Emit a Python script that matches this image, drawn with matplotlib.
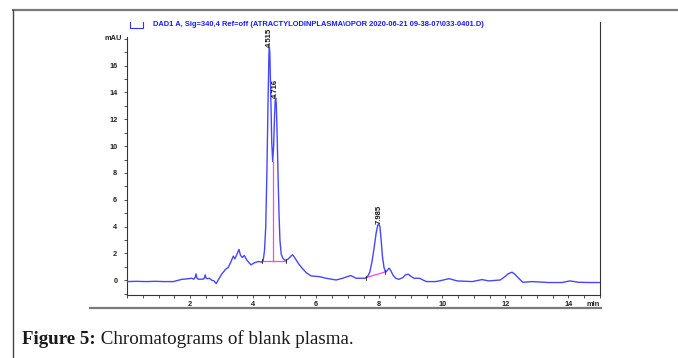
import matplotlib
matplotlib.use("Agg")
import matplotlib.pyplot as plt
from matplotlib.lines import Line2D
from matplotlib.ticker import MultipleLocator, FixedLocator

# ---------------- data ----------------
time = [0.0, 0.3, 0.6, 0.9, 1.2, 1.47, 1.6, 1.74, 1.9, 2.05, 2.12, 2.16, 2.19, 2.22, 2.26,
        2.42, 2.45, 2.48, 2.51, 2.55, 2.61, 2.69, 2.76, 2.83, 2.9, 3.0, 3.14, 3.21, 3.3,
        3.37, 3.42, 3.48, 3.55, 3.6, 3.66, 3.72, 3.8, 3.93, 4.04, 4.17, 4.27, 4.32, 4.36,
        4.40, 4.44, 4.47, 4.50, 4.515, 4.53, 4.56, 4.59, 4.62, 4.65, 4.68, 4.70, 4.716,
        4.735, 4.76, 4.79, 4.82, 4.85, 4.89, 4.94, 5.0, 5.05, 5.12, 5.2, 5.25, 5.3, 5.37,
        5.45, 5.53, 5.68, 5.84, 6.1, 6.31, 6.63, 6.84, 7.0, 7.1, 7.26, 7.55, 7.62, 7.7,
        7.77, 7.83, 7.9, 7.95, 7.985, 8.02, 8.06, 8.1, 8.15, 8.2, 8.26, 8.31, 8.36, 8.43,
        8.52, 8.62, 8.75, 8.83, 8.92, 9.0, 9.1, 9.28, 9.4, 9.5, 9.79, 10.0, 10.21, 10.47,
        10.95, 11.26, 11.47, 11.84, 12.0, 12.1, 12.21, 12.3, 12.37, 12.55, 12.85, 13.37,
        13.79, 14.05, 14.32, 14.63, 15.0]
signal = [-0.1, -0.08, -0.1, -0.08, -0.1, -0.1, -0.02, 0.07, 0.1, 0.15, 0.08, 0.2, 0.47, 0.15, 0.08,
          0.08, 0.15, 0.4, 0.15, 0.12, 0.15, 0.0, -0.05, -0.25, 0.05, 0.45, 0.85, 0.95, 1.4,
          1.8, 1.6, 1.9, 2.3, 1.85, 1.7, 1.85, 1.5, 1.15, 1.3, 1.4, 1.35, 1.5, 2.2,
          4.0, 8.5, 13.0, 16.8, 17.4, 16.9, 13.8, 10.3, 8.85, 10.0, 12.3, 13.4, 13.6,
          13.1, 11.0, 7.8, 5.0, 3.0, 1.95, 1.65, 1.5, 1.5, 1.6, 1.8, 1.9, 1.75, 1.5,
          1.2, 0.97, 0.57, 0.32, 0.27, 0.15, 0.02, 0.15, 0.28, 0.35, 0.15, 0.15, 0.25, 0.6,
          1.4, 2.3, 3.5, 4.1, 4.2, 4.0, 3.0, 1.8, 0.95, 0.6, 0.75, 0.9, 0.75, 0.4,
          0.15, 0.07, 0.2, 0.4, 0.45, 0.3, 0.15, 0.15, 0.0, -0.1, -0.1, 0.0, 0.12, -0.05,
          -0.1, 0.05, -0.05, 0.02, 0.3, 0.5, 0.6, 0.45, 0.27, -0.15, -0.1, -0.17,
          -0.17, -0.05, -0.15, -0.17, -0.17]

peak_times = [4.515, 4.716, 7.985]
peak_heights = [17.4, 13.6, 4.2]
peak_labels = ["4.515", "4.716", "7.985"]

# integration baselines (start, end) and drop line
base1_t = [4.27, 5.04]
base1_y = [1.45, 1.45]
drop_t = [4.62, 4.62]
drop_y = [1.45, 8.85]
base2_t = [7.58, 8.19]
base2_y = [0.2, 0.62]

x_major = [2, 4, 6, 8, 10, 12, 14]
y_major = [0, 2, 4, 6, 8, 10, 12, 14, 16]

title_text = "DAD1 A, Sig=340,4 Ref=off (ATRACTYLODINPLASMA\\OPOR 2020-06-21 09-38-07\\033-0401.D)"
caption_bold = "Figure 5:"
caption_rest = " Chromatograms of blank plasma."

# ---------------- figure ----------------
W, H = 678, 358
fig = plt.figure(figsize=(W / 100, H / 100), dpi=100)
fig.patch.set_facecolor("white")

def fx(px):
    return px / W

def fy(py):
    return 1 - py / H

ax_left, ax_right, ax_top, ax_bottom = 127, 600, 37.5, 295
ax = fig.add_axes([fx(ax_left), fy(ax_bottom), (ax_right - ax_left) / W, (ax_bottom - ax_top) / H])
ax.set_xlim(0, 15)
ax.set_ylim(-1.1, 18.1)

blue = "#4646ff"
ax.plot(time, signal, color=blue, lw=1.0, zorder=3)
mag = "#ff44ee"
ax.plot(base1_t, base1_y, color=mag, lw=0.9, zorder=2)
ax.plot(drop_t, drop_y, color=mag, lw=0.9, zorder=2)
ax.plot(base2_t, base2_y, color=mag, lw=0.9, zorder=2)
# baseline tick marks
for t, y in zip(base1_t + base2_t, base1_y + base2_y):
    ax.plot([t, t], [y - 0.15, y + 0.15], color="#222222", lw=0.6, zorder=4)

lab_font = dict(family="Liberation Sans", size=5.5, weight="bold")
for t, h, lab in zip(peak_times, peak_heights, peak_labels):
    ax.annotate(lab, (t, h), xytext=(0, 0.0), textcoords="offset points",
                rotation=90, ha="center", va="bottom", color="#111111", **lab_font)

for s in ["top", "right"]:
    ax.spines[s].set_visible(False)
for s in ["left", "bottom"]:
    ax.spines[s].set_linewidth(0.8)
    ax.spines[s].set_color("#333333")

ax.xaxis.set_major_locator(FixedLocator(x_major))
ax.xaxis.set_minor_locator(MultipleLocator(0.5))
ax.yaxis.set_major_locator(FixedLocator(y_major))
ax.yaxis.set_minor_locator(MultipleLocator(1))
ax.set_xticklabels([str(v) for v in x_major])
ax.set_yticklabels([str(v) for v in y_major])
ax.tick_params(axis="both", which="both", length=2.5, width=0.6, color="#333333", direction="out")
ax.tick_params(axis="x", which="major", pad=1.5)
ax.tick_params(axis="y", which="major", pad=4.5)
for lab in ax.get_xticklabels() + ax.get_yticklabels():
    lab.set_fontfamily("Liberation Sans")
    lab.set_fontsize(5.3)
    lab.set_fontweight("bold")
    lab.set_color("#222222")

# mAU label and min label
fig.text(fx(122), fy(38), "mAU", ha="right", va="center", fontsize=5.3,
         family="Liberation Sans", weight="bold", color="#222222")
fig.text(fx(600), fy(304), "min", ha="right", va="center", fontsize=5.3,
         family="Liberation Sans", weight="bold", color="#222222")

# right vertical line
fig.add_artist(Line2D([fx(600), fx(600)], [fy(22), fy(ax_bottom)], color="#333333", lw=0.8))

# legend bracket + title
fig.add_artist(Line2D([fx(130), fx(130), fx(143), fx(143)], [fy(22), fy(27.5), fy(27.5), fy(22)],
                      color="#3333ff", lw=0.8))
fig.text(fx(153), fy(25), title_text, ha="left", va="center", fontsize=5.4,
         family="Liberation Sans", weight="bold", color="#1a1aff")

# page frame lines
grey = "#7a7a7a"
fig.add_artist(Line2D([fx(13), fx(678)], [fy(10), fy(10)], color=grey, lw=1.6))
fig.add_artist(Line2D([fx(13), fx(13)], [fy(10), fy(358)], color="#444444", lw=1.0))
fig.add_artist(Line2D([fx(90), fx(601)], [fy(308), fy(308)], color=grey, lw=1.6))

# caption
cap_size = 13.7
t1 = fig.text(fx(22), fy(344), caption_bold, ha="left", va="baseline", fontsize=cap_size,
              family="Liberation Serif", weight="bold", color="#1a1a1a")
fig.canvas.draw()
bb = t1.get_window_extent()
fig.text(bb.x1 / W, fy(344), caption_rest, ha="left", va="baseline", fontsize=cap_size,
         family="Liberation Serif", color="#1a1a1a")

fig.savefig("out.png", dpi=100, facecolor="white")
